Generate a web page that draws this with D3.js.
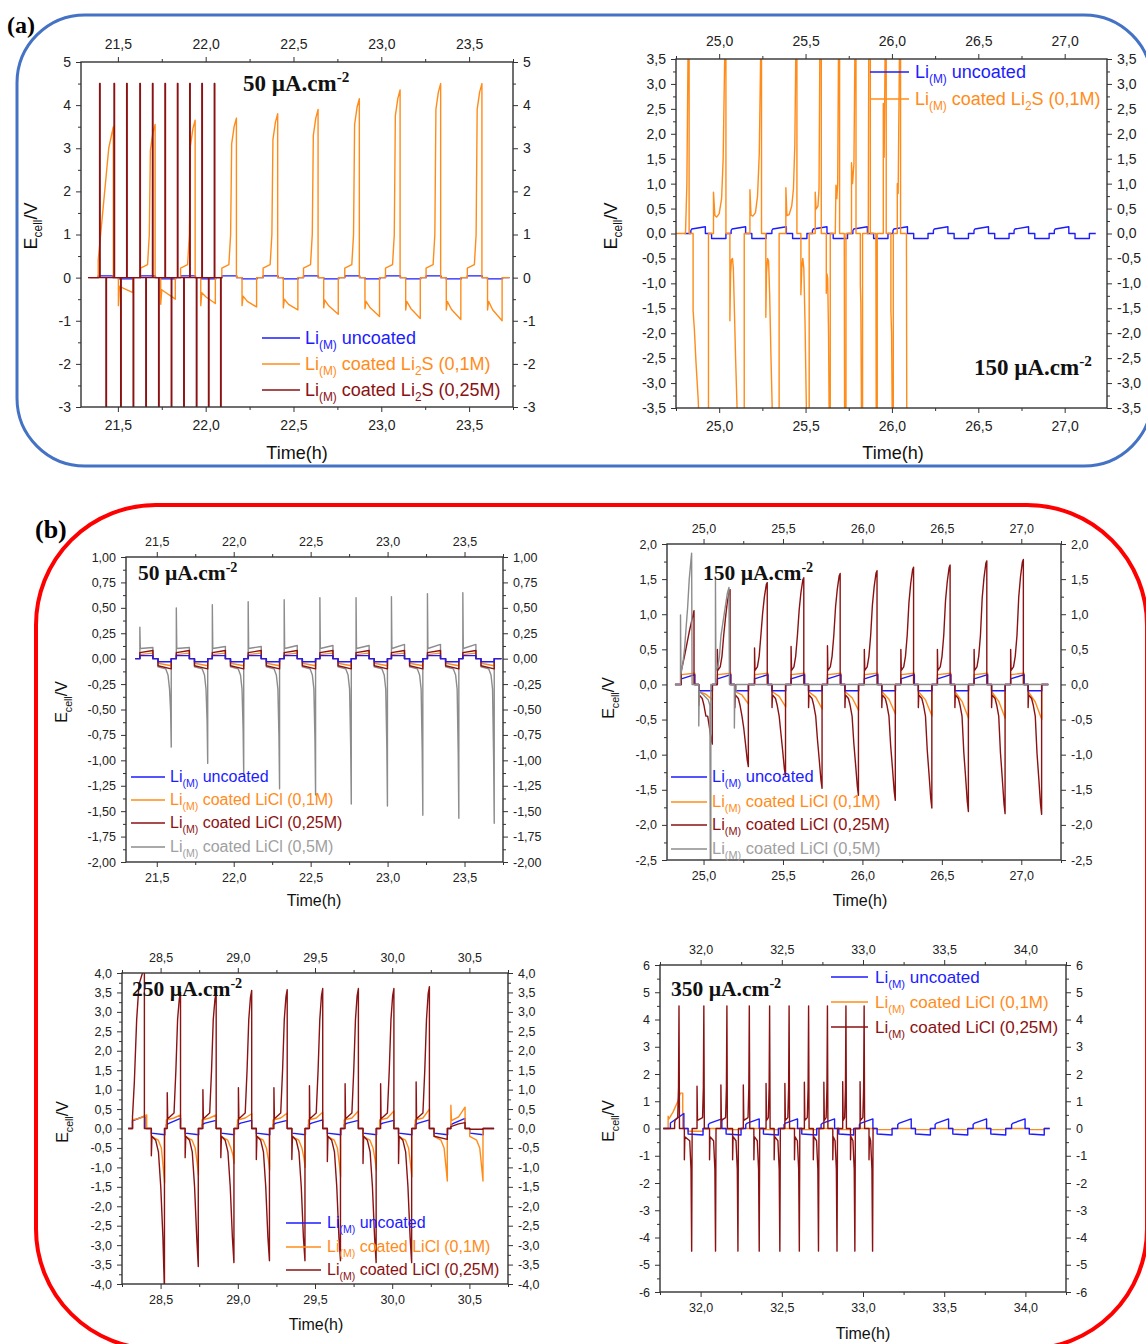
<!DOCTYPE html>
<html><head><meta charset="utf-8">
<script src="https://cdn.jsdelivr.net/npm/d3@7"></script>
<style>body{margin:0;background:#fff;} svg{display:block;}</style>
</head><body>
<svg id="chart" width="1146" height="1344"></svg>
<script>
// ================= DATA =================
// ---- tick labels ----
const xTicksA1 = [21.5, 22.0, 22.5, 23.0, 23.5];
const xTicksA2 = [25.0, 25.5, 26.0, 26.5, 27.0];
const xTicksB1 = [21.5, 22.0, 22.5, 23.0, 23.5];
const xTicksB2 = [25.0, 25.5, 26.0, 26.5, 27.0];
const xTicksB3 = [28.5, 29.0, 29.5, 30.0, 30.5];
const xTicksB4 = [32.0, 32.5, 33.0, 33.5, 34.0];
const yTicksA1 = [-3, -2, -1, 0, 1, 2, 3, 4, 5];
const yTicksA2 = [-3.5, -3.0, -2.5, -2.0, -1.5, -1.0, -0.5, 0.0, 0.5, 1.0, 1.5, 2.0, 2.5, 3.0, 3.5];
const yTicksB1 = [-2.0, -1.75, -1.5, -1.25, -1.0, -0.75, -0.5, -0.25, 0.0, 0.25, 0.5, 0.75, 1.0];
const yTicksB2 = [-2.5, -2.0, -1.5, -1.0, -0.5, 0.0, 0.5, 1.0, 1.5, 2.0];
const yTicksB3 = [-4.0, -3.5, -3.0, -2.5, -2.0, -1.5, -1.0, -0.5, 0.0, 0.5, 1.0, 1.5, 2.0, 2.5, 3.0, 3.5, 4.0];
const yTicksB4 = [-6, -5, -4, -3, -2, -1, 0, 1, 2, 3, 4, 5, 6];
const xDomainA1 = [21.29, 23.75], yDomainA1 = [-3, 5];
const xDomainA2 = [24.75, 27.245], yDomainA2 = [-3.5, 3.5];
const xDomainB1 = [21.3, 23.75], yDomainB1 = [-2, 1];
const xDomainB2 = [24.77, 27.25], yDomainB2 = [-2.5, 2];
const xDomainB3 = [28.25, 30.75], yDomainB3 = [-4, 4];
const xDomainB4 = [31.75, 34.25], yDomainB4 = [-6, 6];

// ---- text ----
const labelA = "(a)", labelB = "(b)";
const xTitle = "Time(h)";
const yTitleParts = ["E", "cell", "/V"];
const noteA1 = ["50 µA.cm", "-2"], noteA2 = ["150 µA.cm", "-2"];
const noteB1 = ["50 µA.cm", "-2"], noteB2 = ["150 µA.cm", "-2"];
const noteB3 = ["250 µA.cm", "-2"], noteB4 = ["350 µA.cm", "-2"];
const legUncoated = ["Li", "(M)", " uncoated"];
const legLi2S01 = ["Li", "(M)", " coated Li", "2", "S (0,1M)"];
const legLi2S025 = ["Li", "(M)", " coated Li", "2", "S (0,25M)"];
const legLiCl01 = ["Li", "(M)", " coated LiCl (0,1M)"];
const legLiCl025 = ["Li", "(M)", " coated LiCl (0,25M)"];
const legLiCl05 = ["Li", "(M)", " coated LiCl (0,5M)"];

// ---- panel (a) left, 50 µA.cm-2 ----
const a1CycleStart = [21.388, 21.629, 21.857, 22.092, 22.327, 22.557, 22.792, 23.024, 23.255, 23.49];
const a1NegStart = 0.115;
const a1BlueLevels = [0.04, -0.03];
const a1OrangePeak = [3.5, 3.55, 3.65, 3.7, 3.8, 3.9, 4.15, 4.35, 4.5, 4.5];
const a1OrangeNegSpike = [-0.65, -0.62, -0.65, -0.65, -0.7, -0.7, -0.72, -0.75, -0.75, -0.75];
const a1OrangeNegBump = [-0.2, -0.28, -0.35, -0.43, -0.5, -0.52, -0.55, -0.55, -0.55, -0.55];
const a1OrangeNegMid = [-0.25, -0.35, -0.45, -0.55, -0.62, -0.66, -0.7, -0.72, -0.74, -0.75];
const a1OrangeNegEnd = [-0.35, -0.5, -0.6, -0.68, -0.75, -0.85, -0.9, -0.95, -0.97, -1.0];
const a1RedUpTime = [21.396, 21.478, 21.550, 21.625, 21.697, 21.768, 21.839, 21.909, 21.978, 22.049];
const a1RedDownTime = [21.432, 21.516, 21.587, 21.659, 21.732, 21.804, 21.875, 21.947, 22.016, 22.085];
const a1RedUpV = 4.5, a1RedDownV = -3.6;

// ---- panel (a) right, 150 µA.cm-2 ----
const a2CycleStart = [24.836, 25.069, 25.305, 25.54, 25.774, 26.006, 26.24, 26.475, 26.707, 26.94];
const a2NegStart = 0.12;
const a2BlueLevels = [0.06, 0.09, 0.135, -0.1];
const a2Orange = [
 [24.75,0],[24.805,0],[24.813,1.0],[24.82,3.8],[24.826,3.8],[24.826,0],
 [24.849,0],[24.849,-1.55],[24.856,-1.9],[24.866,-2.6],[24.878,-3.3],[24.884,-3.8],[24.938,-3.8],[24.938,0],
 [24.967,0],[24.967,0.83],[24.975,0.36],[24.985,0.33],[25.0,0.4],[25.014,0.7],[25.023,1.5],[25.033,3.8],[25.039,3.8],[25.039,0],
 [25.062,0],[25.062,-1.75],[25.066,-0.8],[25.071,-0.52],[25.077,-0.5],[25.082,-0.7],[25.087,-1.4],[25.095,-2.5],[25.106,-3.8],[25.145,-3.8],[25.145,0],
 [25.178,0],[25.178,0.88],[25.184,0.37],[25.195,0.35],[25.21,0.42],[25.222,0.75],[25.232,1.6],[25.241,3.8],[25.245,3.8],[25.245,0],
 [25.27,0],[25.27,-1.68],[25.274,-0.8],[25.28,-0.5],[25.286,-0.55],[25.292,-1.2],[25.3,-2.5],[25.309,-3.8],[25.347,-3.8],[25.347,0],
 [25.386,0],[25.386,0.92],[25.392,0.36],[25.405,0.38],[25.42,0.55],[25.43,0.9],[25.438,1.8],[25.444,3.8],[25.45,3.8],[25.45,0],
 [25.473,0],[25.473,-1.23],[25.478,-0.7],[25.484,-0.5],[25.49,-0.7],[25.497,-1.8],[25.506,-3.8],[25.521,-3.8],[25.521,0],
 [25.556,0],[25.556,0.83],[25.561,0.49],[25.572,0.55],[25.578,0.9],[25.583,3.8],[25.591,3.8],[25.591,0],
 [25.62,0],[25.62,-1.2],[25.624,-0.81],[25.628,-0.9],[25.633,-2.0],[25.637,-3.8],[25.643,-3.8],[25.643,0],
 [25.672,0],[25.676,0.97],[25.681,0.7],[25.686,1.0],[25.691,3.8],[25.697,3.8],[25.697,0],
 [25.724,0],[25.726,-3.8],[25.734,-3.8],[25.734,0],
 [25.766,0],[25.766,1.42],[25.772,1.0],[25.78,1.4],[25.786,3.8],[25.792,3.8],[25.792,0],
 [25.817,0],[25.817,-1.04],[25.82,-1.4],[25.824,-3.8],[25.83,-3.8],[25.83,0],
 [25.863,0],[25.866,3.8],[25.875,3.8],[25.875,0],
 [25.907,0],[25.909,-3.8],[25.915,-3.8],[25.915,0],
 [25.95,0],[25.95,2.61],[25.955,1.53],[25.961,3.8],[25.967,3.8],[25.967,0],
 [25.994,0],[25.994,-1.55],[25.998,-2.0],[26.002,-3.8],[26.008,-3.8],[26.008,0],
 [26.031,0],[26.031,1.0],[26.036,0.8],[26.044,3.8],[26.05,3.8],[26.05,0],
 [26.084,0],[26.086,-3.8]
];

// ---- panel (b) top-left, 50 µA.cm-2 ----
const b1CycleStart = [21.39, 21.627, 21.861, 22.094, 22.328, 22.56, 22.795, 23.025, 23.259, 23.489];
const b1NegStart = 0.118;
const b1BlueLevels = [0.03, 0.03, -0.03, -0.03];
const b1OrangeLevels = [0.04, 0.055, -0.045, -0.07];
const b1RedLevels = [0.06, 0.08, -0.07, -0.1];
const b1GraySpike = [0.31, 0.5, 0.53, 0.56, 0.58, 0.6, 0.6, 0.61, 0.64, 0.65];
const b1GrayPlateau = [0.11, 0.11, 0.12, 0.12, 0.13, 0.13, 0.13, 0.14, 0.14, 0.14];
const b1GrayTrough = [-0.87, -1.03, -1.15, -1.28, -1.34, -1.43, -1.45, -1.54, -1.57, -1.62];

// ---- panel (b) top-right, 150 µA.cm-2 ----
const b2CycleStart = [24.86, 25.087, 25.321, 25.551, 25.78, 26.012, 26.242, 26.472, 26.703, 26.933];
const b2NegStart = 0.11;
const b2BlueLevels = [0.08, 0.14, -0.09];
const b2OrangeLevels = [0.14, 0.16, -0.1];
const b2OrangeNegMid = [-0.14, -0.15, -0.17, -0.18, -0.19, -0.21, -0.22, -0.24, -0.24, -0.25];
const b2OrangeNegEnd = [-0.22, -0.28, -0.32, -0.35, -0.37, -0.42, -0.45, -0.48, -0.48, -0.5];
const b2RedSpike = [0.2, 0.5, 0.52, 0.54, 0.55, 0.5, 0.5, 0.5, 0.5, 0.5];
const b2RedPeak = [1.05, 1.35, 1.45, 1.52, 1.58, 1.62, 1.67, 1.7, 1.76, 1.78];
const b2RedNegSpike = [-0.3, -0.33, -0.33, -0.33, -0.33, -0.33, -0.33, -0.33, -0.33, -0.33];
const b2RedTrough = [-0.85, -1.17, -1.31, -1.48, -1.58, -1.65, -1.76, -1.81, -1.84, -1.85];
const b2Gray = [
 [24.82,0],[24.855,0],[24.855,0.99],[24.858,0.15],[24.87,0.3],[24.88,0.5],[24.89,0.8],[24.9,1.1],[24.91,1.5],[24.925,1.87],[24.928,0],
 [24.97,0],[24.97,-0.59],[24.973,-0.1],[25.0,-0.15],[25.03,-0.22],[25.04,-0.3],[25.043,-2.7],[25.046,-2.7],[25.046,0],
 [25.075,0],[25.075,1.48],[25.078,0.2],[25.09,0.25],[25.1,0.4],[25.11,0.7],[25.13,1.0],[25.15,1.3],[25.16,1.38],[25.163,0],
 [25.194,0],[25.194,-0.62],[25.197,-0.12],[25.205,-0.1],[25.205,0],[27.17,0]
];

// ---- panel (b) bottom-left, 250 µA.cm-2 ----
const b3CycleStart = [28.318, 28.537, 28.768, 28.998, 29.228, 29.458, 29.689, 29.919, 30.149, 30.38];
const b3NegStart = 0.122;
const b3BluePeak = [0.33, 0.26, 0.21, 0.21, 0.21, 0.22, 0.21, 0.21, 0.22, 0.26];
const b3BlueNeg = [-0.12, -0.16];
const b3OrangePeak = [0.35, 0.35, 0.35, 0.38, 0.4, 0.42, 0.45, 0.45, 0.5, 0.55];
const b3OrangeTrough = [-1.4, -1.2, -0.9, -1.07, -1.0, -1.24, -1.07, -1.24, -1.35, -1.35];
const b3RedSpike = [0.3, 0.92, 1.0, 1.05, 1.05, 1.1, 1.15, 1.15, 1.2, 0.05];
const b3RedPeak = [4.1, 3.5, 3.5, 3.55, 3.57, 3.6, 3.6, 3.6, 3.65, 0.15];
const b3RedNegSpike = [-0.7, -0.75, -0.75, -0.8, -0.8, -0.85, -0.9, -0.9, -0.2, -0.02];
const b3RedTrough = [-4.2, -3.55, -3.45, -3.4, -3.4, -3.4, -3.45, -3.45, -0.28, -0.02];

// ---- panel (b) bottom-right, 350 µA.cm-2 ----
const b4CycleStart = [31.814, 32.048, 32.278, 32.514, 32.742, 32.978, 33.214, 33.444, 33.678, 33.915];
const b4NegStart = 0.109;
const b4BluePeak = [0.55, 0.35, 0.35, 0.35, 0.35, 0.35, 0.35, 0.35, 0.35, 0.35];
const b4BlueNeg = [-0.2, -0.24];
const b4OrangeFirst = [[31.77,0],[31.8,0],[31.8,0.45],[31.805,0.35],[31.83,0.6],[31.86,1.0],[31.875,1.3],[31.89,1.3],[31.89,0]];
const b4OrangeNeg = [-0.1, -0.04, -0.04, -0.04, -0.04, -0.04, -0.04, -0.04, -0.04, -0.04];
const b4RedPreTime = [31.84, 31.978, 32.125, 32.263, 32.403, 32.519, 32.639, 32.759, 32.875, 32.982];
const b4RedPreV = [0.2, 1.55, 1.6, 1.6, 1.65, 1.65, 1.7, 1.7, 1.72, 1.72];
const b4RedUpTime = [31.867, 32.02, 32.162, 32.3, 32.425, 32.545, 32.665, 32.781, 32.895, 33.007];
const b4RedNegPreTime = [31.9, 32.055, 32.197, 32.328, 32.453, 32.578, 32.694, 32.814, 32.923, 33.037];
const b4RedNegPreV = [-1.15, -1.15, -1.15, -1.15, -1.15, -1.15, -1.15, -1.15, -1.15, -1.15];
const b4RedDownTime = [31.945, 32.092, 32.23, 32.361, 32.488, 32.608, 32.726, 32.84, 32.95, 33.059];
const b4RedUpV = 4.5, b4RedDownV = -4.5;

// ================= SERIES ASSEMBLY (from the read values) =================
function pulse(t0, negStart, pos, neg) {
  const out = [[t0, 0]];
  pos.forEach(p => out.push([t0 + p[0], p[1]]));
  out.push([t0 + pos[pos.length - 1][0], 0]);
  const ts = t0 + negStart;
  out.push([ts, 0]);
  neg.forEach(p => out.push([ts + p[0], p[1]]));
  out.push([ts + neg[neg.length - 1][0], 0]);
  return out;
}
function train(tStart, tEnd, cycles) {
  let out = [[tStart, 0]];
  cycles.forEach(c => { out = out.concat(c); });
  out.push([tEnd, 0]);
  return out;
}

// (a) left
const a1Blue = train(21.34, 23.73, a1CycleStart.map(t0 => pulse(t0, a1NegStart,
  [[0, a1BlueLevels[0]], [0.085, a1BlueLevels[0]]], [[0, a1BlueLevels[1]], [0.085, a1BlueLevels[1]]])));
const a1Orange = train(21.33, 23.73, a1CycleStart.map((t0, i) => pulse(t0, a1NegStart,
  i === 0 ? [[0, 0.4], [0.03, 1.7], [0.06, 3.0], [0.086, a1OrangePeak[0]]]
          : [[0, 0.22], [0.04, 0.3], [0.05, 1.0], [0.056, a1OrangePeak[i] - 0.6], [0.07, a1OrangePeak[i] - 0.2], [0.083, a1OrangePeak[i]]],
  [[0, a1OrangeNegSpike[i]], [0.006, a1OrangeNegBump[i]], [0.03, a1OrangeNegMid[i]], [0.083, a1OrangeNegEnd[i]]])));
const a1Red = (() => {
  let out = [[21.33, 0]];
  a1RedUpTime.forEach((u, i) => {
    const d = a1RedDownTime[i];
    out.push([u, 0], [u, a1RedUpV], [u + 0.003, a1RedUpV], [u + 0.003, 0]);
    out.push([d, 0], [d, a1RedDownV], [d + 0.003, a1RedDownV], [d + 0.003, 0]);
  });
  out.push([22.095, 0]);
  return out;
})();

// (a) right
const a2Blue = train(24.8, 27.18, a2CycleStart.map(t0 => pulse(t0, a2NegStart,
  [[0, a2BlueLevels[0]], [0.005, a2BlueLevels[1]], [0.084, a2BlueLevels[2]]],
  [[0, a2BlueLevels[3]], [0.083, a2BlueLevels[3]]])));

// (b) top-left
const b1Blue = train(21.36, 23.74, b1CycleStart.map(t0 => pulse(t0, b1NegStart,
  [[0, b1BlueLevels[0]], [0.085, b1BlueLevels[1]]], [[0, b1BlueLevels[2]], [0.086, b1BlueLevels[3]]])));
const b1Orange = train(21.36, 23.74, b1CycleStart.map(t0 => pulse(t0, b1NegStart,
  [[0, b1OrangeLevels[0]], [0.085, b1OrangeLevels[1]]], [[0, b1OrangeLevels[2]], [0.086, b1OrangeLevels[3]]])));
const b1Red = train(21.36, 23.74, b1CycleStart.map(t0 => pulse(t0, b1NegStart,
  [[0, b1RedLevels[0]], [0.085, b1RedLevels[1]]], [[0, b1RedLevels[2]], [0.086, b1RedLevels[3]]])));
const b1Gray = train(21.36, 23.74, b1CycleStart.map((t0, i) => pulse(t0, b1NegStart,
  [[0, b1GraySpike[i]], [0.003, 0.1], [0.085, b1GrayPlateau[i]]],
  [[0, -0.08], [0.05, -0.1], [0.065, -0.16], [0.075, -0.3], [0.082, b1GrayTrough[i] * 0.6], [0.086, b1GrayTrough[i]]])));

// (b) top-right
const b2Blue = train(24.82, 27.17, b2CycleStart.map(t0 => pulse(t0, b2NegStart,
  [[0, b2BlueLevels[0]], [0.085, b2BlueLevels[1]]], [[0, b2BlueLevels[2]], [0.086, b2BlueLevels[2]]])));
const b2Orange = train(24.82, 27.17, b2CycleStart.map((t0, i) => pulse(t0, b2NegStart,
  [[0, b2OrangeLevels[0]], [0.085, b2OrangeLevels[1]]],
  [[0, b2OrangeLevels[2]], [0.045, b2OrangeNegMid[i]], [0.086, b2OrangeNegEnd[i]]])));
const b2Red = train(24.82, 27.17, b2CycleStart.map((t0, i) => {
  const pk = b2RedPeak[i], tr = b2RedTrough[i];
  const pos = i === 0
    ? [[0, b2RedSpike[0]], [0.02, 0.4], [0.05, 0.75], [0.08, pk]]
    : [[0, b2RedSpike[i]], [0.003, 0.2], [0.018, 0.25], [0.029, 0.4], [0.04, 0.7], [0.051, 0.7 * pk], [0.062, 0.86 * pk], [0.074, 0.98 * pk], [0.08, pk]];
  const neg = [[0, b2RedNegSpike[i]], [0.003, -0.15], [0.022, -0.2], [0.033, -0.3], [0.045, -0.45], [0.056, 0.53 * tr], [0.067, 0.72 * tr], [0.078, 0.92 * tr], [0.085, tr]];
  return pulse(t0, b2NegStart, pos, neg);
}));

// (b) bottom-left
const b3Blue = train(28.29, 30.66, b3CycleStart.map((t0, i) => pulse(t0, b3NegStart,
  i === 0 ? [[0, 0.2], [0.088, b3BluePeak[0]]] : [[0, 0.1], [0.02, 0.14], [0.092, b3BluePeak[i]]],
  [[0, b3BlueNeg[0]], [0.088, b3BlueNeg[1]]])));
const b3Orange = train(28.29, 30.66, b3CycleStart.map((t0, i) => pulse(t0, b3NegStart,
  i === 9 ? [[0, 0.6], [0.004, 0.2], [0.05, 0.3], [0.092, b3OrangePeak[9]]] : [[0, 0.22], [0.05, 0.27], [0.092, b3OrangePeak[i]]],
  [[0, -0.2], [0.045, -0.3], [0.065, -0.5], [0.078, b3OrangeTrough[i] * 0.75], [0.086, b3OrangeTrough[i]]])));
const b3Red = train(28.29, 30.66, b3CycleStart.map((t0, i) => {
  const pk = b3RedPeak[i], tr = b3RedTrough[i];
  let pos, neg;
  if (i === 0) pos = [[0, b3RedSpike[0]], [0.012, 1.2], [0.027, 2.8], [0.042, 3.7], [0.072, pk], [0.077, pk]];
  else if (pk > 1) pos = [[0.006, 0], [0.006, b3RedSpike[i]], [0.009, 0.25], [0.05, 0.4], [0.062, 1.5], [0.073, 2.8], [0.084, 0.95 * pk], [0.092, pk]];
  else pos = [[0, b3RedSpike[i]], [0.05, 0.12], [0.092, pk]];
  if (tr < -1) neg = [[0, b3RedNegSpike[i]], [0.004, -0.2], [0.028, -0.3], [0.046, -0.6], [0.061, -1.5], [0.075, -2.8], [0.085, tr]];
  else neg = [[0, b3RedNegSpike[i]], [0.086, tr]];
  return pulse(t0, b3NegStart, pos, neg);
}));

// (b) bottom-right
const b4Blue = train(31.77, 34.15, b4CycleStart.map((t0, i) => pulse(t0, b4NegStart,
  i === 0 ? [[0, 0.2], [0.083, b4BluePeak[0]]] : [[0, 0.15], [0.01, 0.2], [0.083, b4BluePeak[i]]],
  [[0, b4BlueNeg[0]], [0.092, b4BlueNeg[1]]])));
const b4Orange = (() => {
  let out = b4OrangeFirst.slice();
  b4CycleStart.forEach((t0, i) => {
    const ts = t0 + b4NegStart;
    out.push([ts, 0], [ts, b4OrangeNeg[i]], [ts + 0.092, b4OrangeNeg[i]], [ts + 0.092, 0]);
  });
  out.push([34.15, 0]);
  return out;
})();
const b4Red = (() => {
  let out = [[31.77, 0]];
  b4RedUpTime.forEach((u, i) => {
    const a = b4RedPreTime[i], b = b4RedNegPreTime[i], d = b4RedDownTime[i];
    out.push([a, 0], [a, b4RedPreV[i]], [a + 0.003, 0.3], [u - 0.008, 0.4], [u - 0.003, 1.5], [u, b4RedUpV], [u + 0.003, 0]);
    out.push([b, 0], [b, b4RedNegPreV[i]], [b + 0.003, -0.3], [d - 0.012, -0.45], [d - 0.004, -1.5], [d, b4RedDownV], [d + 0.003, 0]);
  });
  out.push([33.07, 0]);
  return out;
})();

// ================= DRAWING =================
const C = { blue: "#1c1cff", orange: "#ff8c1a", red: "#8b1212", gray: "#8c8c8c", grayText: "#a0a0a0" };
const FONT = "'Liberation Sans', Arial, sans-serif";
const SERIF = "'Liberation Serif', 'Times New Roman', serif";
const loc = d3.formatLocale({ decimal: ",", thousands: ".", grouping: [3], currency: ["", ""], minus: "-" });
function fmt(dec) { const f = loc.format("." + dec + "f"); return v => f(Math.abs(v) < 1e-9 ? 0 : v); }
function minorOf(ticks, domain) {
  const step = ticks[1] - ticks[0], out = [];
  const lo = Math.min(domain[0], domain[1]), hi = Math.max(domain[0], domain[1]);
  for (let i = -1; i < ticks.length; i++) {
    const v = +(ticks[0] + (i + 0.5) * step).toFixed(6);
    if (v >= lo - 1e-9 && v <= hi + 1e-9) out.push(v);
  }
  return out;
}

const svg = d3.select("#chart");
const defs = svg.append("defs");

// rounded group frames
svg.append("rect").attr("x", 17).attr("y", 15).attr("width", 1135).attr("height", 451).attr("rx", 68).attr("ry", 68)
  .attr("fill", "none").attr("stroke", "#4472c4").attr("stroke-width", 3);
svg.append("rect").attr("x", 36).attr("y", 505).attr("width", 1111).attr("height", 844).attr("rx", 120).attr("ry", 120)
  .attr("fill", "none").attr("stroke", "#ff0000").attr("stroke-width", 4);
svg.append("text").attr("x", 7).attr("y", 33).attr("font-family", SERIF).attr("font-weight", "bold").attr("font-size", 24).text(labelA);
svg.append("text").attr("x", 35).attr("y", 538).attr("font-family", SERIF).attr("font-weight", "bold").attr("font-size", 26).text(labelB);

function rich(textSel, parts, fs, mode) {
  const sh = mode === "sup" ? -fs * 0.38 : fs * 0.3;
  parts.forEach((p, i) => {
    const t = textSel.append("tspan").text(p);
    if (i % 2 === 1) t.attr("font-size", fs * 0.66).attr("dy", sh);
    else if (i > 0) t.attr("dy", -sh);
  });
}

const panels = [
  { id: "a1", L: 81, R: 513, T: 62, B: 407, xd: xDomainA1, yd: yDomainA1, xt: xTicksA1, yt: yTicksA1, yDec: 0, fs: 14, padX: 8, padY: 5, titleFs: 18,
    series: [[a1Blue, C.blue], [a1Orange, C.orange], [a1Red, C.red]],
    yTitle: [31, 226], xTitle: [297, 459], note: [243, 91, 23, noteA1],
    legend: { x1: 262, x2: 300, tx: 305, ys: [338, 364, 390], fs: 18, items: [[legUncoated, C.blue, C.blue], [legLi2S01, C.orange, C.orange], [legLi2S025, C.red, C.red]] } },
  { id: "a2", L: 676, R: 1107, T: 59, B: 408, xd: xDomainA2, yd: yDomainA2, xt: xTicksA2, yt: yTicksA2, yDec: 1, fs: 14, padX: 8, padY: 5, titleFs: 18,
    series: [[a2Blue, C.blue], [a2Orange, C.orange]],
    yTitle: [611, 226], xTitle: [893, 459], note: [974, 375, 23, noteA2],
    legend: { x1: 870, x2: 909, tx: 915, ys: [72, 99], fs: 18, items: [[legUncoated, C.blue, C.blue], [legLi2S01, C.orange, C.orange]] } },
  { id: "b1", L: 126, R: 503, T: 557, B: 862, xd: xDomainB1, yd: yDomainB1, xt: xTicksB1, yt: yTicksB1, yDec: 2, fs: 12.5, padX: 6.5, padY: 5, titleFs: 16,
    series: [[b1Gray, C.gray], [b1Orange, C.orange], [b1Red, C.red], [b1Blue, C.blue]],
    yTitle: [61, 702], xTitle: [314, 906], note: [138, 580, 21.5, noteB1],
    legend: { x1: 131, x2: 165, tx: 170, ys: [777, 800, 823, 847], fs: 16, items: [[legUncoated, C.blue, C.blue], [legLiCl01, C.orange, C.orange], [legLiCl025, C.red, C.red], [legLiCl05, C.gray, C.grayText]] } },
  { id: "b2", L: 667, R: 1061, T: 544, B: 860, xd: xDomainB2, yd: yDomainB2, xt: xTicksB2, yt: yTicksB2, yDec: 1, fs: 12.5, padX: 6.5, padY: 5, titleFs: 16,
    series: [[b2Orange, C.orange], [b2Blue, C.blue], [b2Red, C.red], [b2Gray, C.gray]],
    yTitle: [608, 698], xTitle: [860, 906], note: [703, 580, 21.5, noteB2],
    legend: { x1: 671, x2: 707, tx: 712, ys: [777, 802, 825, 849], fs: 16.5, items: [[legUncoated, C.blue, C.blue], [legLiCl01, C.orange, C.orange], [legLiCl025, C.red, C.red], [legLiCl05, C.gray, C.grayText]] } },
  { id: "b3", L: 122, R: 508, T: 973, B: 1284, xd: xDomainB3, yd: yDomainB3, xt: xTicksB3, yt: yTicksB3, yDec: 1, fs: 12.5, padX: 6.5, padY: 5, titleFs: 16,
    series: [[b3Blue, C.blue], [b3Orange, C.orange], [b3Red, C.red]],
    yTitle: [62, 1122], xTitle: [316, 1330], note: [132, 996, 21.5, noteB3],
    legend: { x1: 286, x2: 321, tx: 327, ys: [1223, 1247, 1270], fs: 16, items: [[legUncoated, C.blue, C.blue], [legLiCl01, C.orange, C.orange], [legLiCl025, C.red, C.red]] } },
  { id: "b4", L: 660, R: 1066, T: 965, B: 1292, xd: xDomainB4, yd: yDomainB4, xt: xTicksB4, yt: yTicksB4, yDec: 0, fs: 12.5, padX: 6.5, padY: 5, titleFs: 16,
    series: [[b4Orange, C.orange], [b4Blue, C.blue], [b4Red, C.red]],
    yTitle: [608, 1121], xTitle: [863, 1339], note: [671, 996, 21.5, noteB4],
    legend: { x1: 831, x2: 868, tx: 875, ys: [977, 1002, 1027], fs: 17, items: [[legUncoated, C.blue, C.blue], [legLiCl01, C.orange, C.orange], [legLiCl025, C.red, C.red]] } }
];

panels.forEach(p => {
  const x = d3.scaleLinear().domain(p.xd).range([p.L, p.R]);
  const y = d3.scaleLinear().domain(p.yd).range([p.B, p.T]);
  const g = svg.append("g");
  const cid = "clip-" + p.id;
  defs.append("clipPath").attr("id", cid).append("rect")
    .attr("x", p.L).attr("y", p.T).attr("width", p.R - p.L).attr("height", p.B - p.T);
  const lg = g.append("g").attr("clip-path", "url(#" + cid + ")");
  const line = d3.line().x(d => x(d[0])).y(d => y(d[1]));
  p.series.forEach(s => {
    lg.append("path").attr("d", line(s[0])).attr("fill", "none").attr("stroke", s[1])
      .attr("stroke-width", 1.4).attr("stroke-linejoin", "round");
  });

  const xMinor = minorOf(p.xt, p.xd), yMinor = minorOf(p.yt, p.yd);
  const fx = fmt(1), fy = fmt(p.yDec);
  const axes = [
    [() => d3.axisBottom(x), "translate(0," + p.B + ")", p.xt, xMinor, fx, p.padX],
    [() => d3.axisTop(x), "translate(0," + p.T + ")", p.xt, xMinor, fx, p.padX],
    [() => d3.axisLeft(y), "translate(" + p.L + ",0)", p.yt, yMinor, fy, p.padY],
    [() => d3.axisRight(y), "translate(" + p.R + ",0)", p.yt, yMinor, fy, p.padY]
  ];
  axes.forEach(a => {
    const gm = g.append("g").attr("transform", a[1]).call(a[0]().tickValues(a[3]).tickSize(3).tickFormat(""));
    gm.select(".domain").remove();
    gm.selectAll("line").attr("stroke", "#333");
    const gM = g.append("g").attr("transform", a[1]).call(a[0]().tickValues(a[2]).tickSize(5).tickPadding(a[5]).tickFormat(a[4]));
    gM.select(".domain").remove();
    gM.selectAll("line").attr("stroke", "#333");
    gM.selectAll("text").attr("font-size", p.fs).attr("font-family", FONT).attr("fill", "#222");
  });
  g.append("rect").attr("x", p.L).attr("y", p.T).attr("width", p.R - p.L).attr("height", p.B - p.T)
    .attr("fill", "none").attr("stroke", "#333").attr("stroke-width", 1.4);

  // axis titles
  g.append("text").attr("x", p.xTitle[0]).attr("y", p.xTitle[1]).attr("text-anchor", "middle")
    .attr("font-family", FONT).attr("font-size", p.titleFs).attr("fill", "#111").text(xTitle);
  const yt = g.append("text").attr("text-anchor", "middle").attr("font-family", FONT).attr("font-size", p.titleFs).attr("fill", "#111")
    .attr("transform", "translate(" + (p.yTitle[0] + 6) + "," + p.yTitle[1] + ") rotate(-90)");
  rich(yt, yTitleParts, p.titleFs, "sub");

  // current-density note
  const nt = g.append("text").attr("x", p.note[0]).attr("y", p.note[1]).attr("font-family", SERIF)
    .attr("font-weight", "bold").attr("font-size", p.note[2]).attr("fill", "#111");
  rich(nt, p.note[3], p.note[2], "sup");

  // legend
  const L = p.legend;
  L.items.forEach((it, i) => {
    const yy = L.ys[i];
    g.append("line").attr("x1", L.x1).attr("x2", L.x2).attr("y1", yy).attr("y2", yy)
      .attr("stroke", it[1]).attr("stroke-width", 1.6);
    const t = g.append("text").attr("x", L.tx).attr("y", yy + L.fs * 0.33).attr("font-family", FONT)
      .attr("font-size", L.fs).attr("fill", it[2]);
    rich(t, it[0], L.fs, "sub");
  });
});
</script>
</body></html>
